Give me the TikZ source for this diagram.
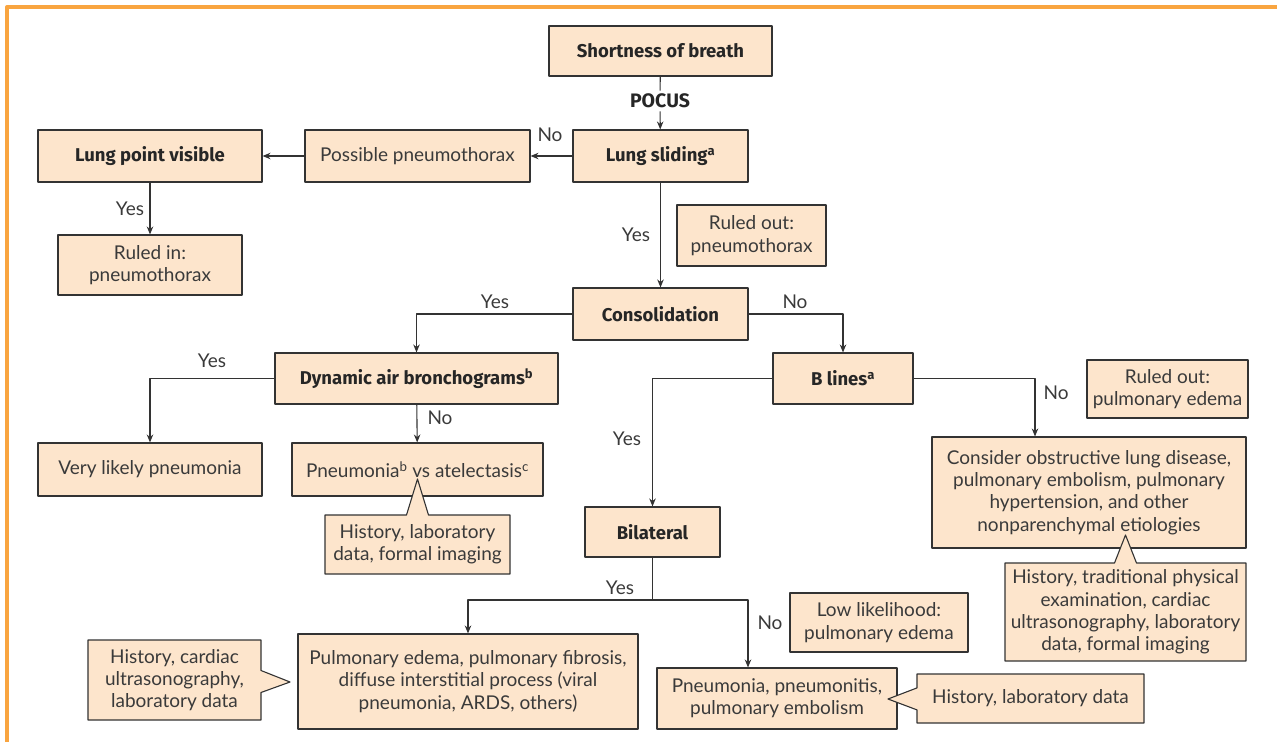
\documentclass[tikz,border=0pt]{standalone}
\usepackage{fontspec}
\setmainfont{Lato}
\newfontfamily\headfont{Fira Sans}
\usetikzlibrary{arrows.meta,shapes.callouts}
\definecolor{boxfill}{HTML}{FDE5CC}
\definecolor{boxline}{HTML}{333333}
\definecolor{frameorange}{HTML}{F9A540}
\definecolor{txt}{HTML}{3A3A3A}
\begin{document}
\begin{tikzpicture}[x=1pt, y=-1pt, line join=round, >={Stealth[length=8pt,width=6.5pt]},
		box/.style={draw=boxline, fill=boxfill, line width=1.1pt, align=center, inner sep=0pt, text=txt, font=\fontsize{19}{22.3}\selectfont},
		keybox/.style={box, text=black!85, font=\headfont\bfseries\fontsize{18.5}{22}\selectfont},
		note/.style={box, rectangle callout, callout pointer width=22pt},
		flow/.style={draw=boxline, line width=1.1pt},
		lbl/.style={text=txt, inner sep=0pt, font=\fontsize{19}{22}\selectfont}]
	\useasboundingbox (0,0) rectangle (1277,742);
	%Khung
	\draw[frameorange, line width=4pt] (1277,7)--(7,7)--(7,742);
	%Hàng trên
	\node[keybox, minimum width=223pt, minimum height=50pt] (sob) at (660.5,51) {Shortness of breath};
	\node[lbl, inner sep=3pt, text=black!85, font=\headfont\bfseries\fontsize{19.5}{22}\selectfont] (pocus) at (660,101) {POCUS};
	\node[keybox, minimum width=175pt, minimum height=52pt] (ls) at (660.5,156) {Lung sliding\textsuperscript{a}};
	\node[box, minimum width=225pt, minimum height=52pt] (pp) at (417.5,156) {Possible pneumothorax};
	\node[keybox, minimum width=224pt, minimum height=52pt] (lpv) at (150,156) {Lung point visible};
	\node[box, minimum width=184pt, minimum height=60pt] (rin) at (150,265) {Ruled in:\\pneumothorax};
	\node[box, minimum width=149pt, minimum height=61pt] (rout) at (751.5,235.5) {Ruled out:\\pneumothorax};
	%Consolidation
	\node[keybox, minimum width=175pt, minimum height=52pt] (cons) at (660.5,314) {Consolidation};
	\node[keybox, minimum width=283pt, minimum height=51pt] (dab) at (416.5,378.5) {Dynamic air bronchograms\textsuperscript{b}};
	\node[box, minimum width=224pt, minimum height=53pt] (vlp) at (150,469.5) {Very likely pneumonia};
	\node[box, minimum width=251pt, minimum height=53pt] (pva) at (417.5,469.5) {Pneumonia\textsuperscript{b} vs atelectasis\textsuperscript{c}};
	\node[note, minimum width=185pt, minimum height=59pt, callout absolute pointer={(417.5,479)}] (hlf) at (417.5,544.5) {History, laboratory\\data, formal imaging};
	%B lines
	\node[keybox, minimum width=140pt, minimum height=51pt] (bl) at (843,378.5) {B lines\textsuperscript{a}};
	\node[box, minimum width=161pt, minimum height=58pt] (rope) at (1167.5,389) {Ruled out:\\pulmonary edema};
	\node[box, minimum width=314pt, minimum height=111pt] (cold) at (1089,492.5) {Consider obstructive lung disease,\\pulmonary embolism, pulmonary\\hypertension, and other\\nonparenchymal etiologies};
	\node[note, minimum width=241pt, minimum height=98pt, callout absolute pointer={(1125.5,535)}] (htp) at (1125.5,612) {History, traditional physical\\examination, cardiac\\ultrasonography, laboratory\\data, formal imaging};
	\node[keybox, minimum width=135pt, minimum height=50pt] (bil) at (652.5,532) {Bilateral};
	\node[box, minimum width=178pt, minimum height=59pt] (low) at (879,622.5) {Low likelihood:\\pulmonary edema};
	%Hàng dưới
	\node[box, minimum width=340pt, minimum height=95pt] (pef) at (468,681.5) {Pulmonary edema, pulmonary fibrosis,\\diffuse interstitial process (viral\\pneumonia, ARDS, others)};
	\node[note, minimum width=173pt, minimum height=80pt, callout absolute pointer={(290,682)}] (hcu) at (174.5,680) {History, cardiac\\ultrasonography,\\laboratory data};
	\node[box, minimum width=240pt, minimum height=61pt] (ppe) at (777,698.5) {Pneumonia, pneumonitis,\\pulmonary embolism};
	\node[note, minimum width=227pt, minimum height=49pt, callout absolute pointer={(888,699)}] (hld) at (1030.5,698.5) {History, laboratory data};
	%Mũi tên
	\draw[flow] (sob)--(pocus);
	\draw[flow,->] (pocus)--(ls);
	\draw[flow,->] (ls)--(pp);
	\draw[flow,->] (pp)--(lpv);
	\draw[flow,->] (lpv)--(rin);
	\draw[flow,->] (ls)--(cons);
	\draw[flow,->] (cons.west)-|(dab.north);
	\draw[flow,->] (cons.east)-|(bl.north);
	\draw[flow,->] (dab.west)-|(vlp.north);
	\draw[flow,->] (dab)--(pva);
	\draw[flow,->] (bl.west)-|(bil.north);
	\draw[flow,->] (bl.east)-|([xshift=-54pt]cold.north);
	\coordinate (split) at (652.5,600);
	\draw[flow] (bil)--(split);
	\draw[flow,->] (split)-|(pef.north);
	\draw[flow,->] (split)-|([xshift=-29pt]ppe.north);
	%Nhãn
	\node[lbl] (n1) at (550,135) {No};
	\node[lbl] (y1) at (130,209) {Yes};
	\node[lbl] (y2) at (636,235) {Yes};
	\node[lbl] (y3) at (495,302) {Yes};
	\node[lbl] (n2) at (795,302) {No};
	\node[lbl] (y4) at (212,361) {Yes};
	\node[lbl] (n3) at (440,418) {No};
	\node[lbl] (y5) at (627,439) {Yes};
	\node[lbl] (n4) at (1056,393) {No};
	\node[lbl] (y6) at (620,588) {Yes};
	\node[lbl] (n5) at (770,623) {No};
\end{tikzpicture}
\end{document}
